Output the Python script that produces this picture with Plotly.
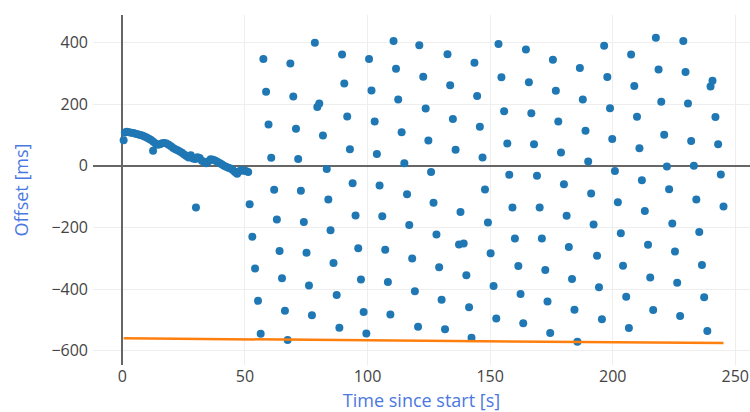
import plotly.graph_objects as go

# Clock offset samples: time since start [s] and offset [ms]
time_s = [
    0.5, 1.0, 1.8, 2.7, 3.6, 4.5, 5.4, 6.3, 7.2, 8.1, 9.0, 9.9, 10.8, 11.7,
    12.5, 12.6, 13.5, 14.4, 15.3, 16.2, 17.1, 18.0, 18.9, 19.8, 20.7, 21.6,
    22.5, 23.4, 24.3, 25.2, 26.1, 27.0, 27.9, 28.8, 29.7, 30.0, 30.6, 31.5,
    32.4, 33.3, 34.2, 35.1, 36.0, 36.9, 37.8, 38.7, 39.6, 40.5, 41.4, 42.3,
    43.2, 44.1, 45.0, 45.9, 46.8, 47.7, 48.6, 49.5, 50.4, 51.3,
    51.9, 53.0, 54.1, 55.3, 56.4, 57.5, 58.6, 59.6, 60.7, 61.9, 63.0, 64.1,
    65.1, 66.3, 67.4, 68.5, 69.7, 70.8, 71.7, 72.8, 74.0, 75.1, 76.1, 77.3,
    78.5, 79.5, 80.3, 81.8, 83.35, 84.0, 84.9, 86.1, 87.4, 88.5,
    89.6, 90.5, 91.7, 92.8, 93.9, 95.1, 96.2, 97.3, 98.4, 99.5,
    100.6, 101.6, 102.9, 103.8, 104.9, 106.0, 107.2, 108.3, 109.3,
    110.6, 111.6, 112.5, 113.9, 115.0, 116.1, 117.0, 118.2, 119.3, 120.6,
    121.1, 122.7, 123.7, 124.8, 125.9, 126.9, 128.1, 129.2, 130.2, 131.6,
    132.6, 133.7, 134.8, 135.9, 137.3, 137.9, 139.2, 140.3, 141.4, 142.4,
    143.6, 144.7, 145.8, 146.9, 147.9, 149.1, 150.2, 151.4, 152.5,
    153.4, 154.6, 155.7, 157.0, 157.8, 159.1, 160.1, 161.5, 162.4, 163.5,
    164.6, 165.8, 166.8, 167.9, 169.1, 170.2, 171.1, 172.5, 173.4, 174.5,
    175.6, 176.8, 177.8, 178.9, 180.1, 181.2, 182.1, 183.4, 184.4, 185.6,
    186.6, 187.8, 188.9, 190.0, 191.2, 192.2, 193.6, 194.4, 195.6,
    196.5, 197.8, 198.9, 199.8, 200.9, 202.1, 203.3, 204.2, 205.5, 206.6,
    207.5, 208.8, 209.9, 210.9, 211.9, 213.1, 214.4, 215.3, 216.5,
    217.6, 218.7, 219.8, 221.0, 222.1, 223.0, 224.3, 225.4, 226.3, 227.5,
    228.8, 229.7, 230.7, 232.0, 233.1, 234.1, 235.3, 236.4, 237.3, 238.6,
    239.9, 240.7, 241.9, 243.0, 244.1, 245.2,
]
offset_ms = [
    83, 108, 110, 109, 107, 106, 104, 102, 100, 98, 95, 92, 88, 84,
    49, 78, 72, 68, 70, 73, 74, 72, 68, 63, 58, 54,
    50, 46, 42, 37, 32, 27, 34, 24, 22, -135, 28, 25,
    16, 12, 8, 15, 21, 20, 17, 13, 9, 5, 0, -3,
    -6, -9, -14, -20, -26, -18, -14, -16, -17, -20,
    -125, -230, -333, -438, -545, 346, 240, 134, 26, -78, -174, -276,
    -365, -470, -565, 332, 225, 120, 22, -81, -182, -282, -388, -485,
    399, 191, 202, 98, -10, -109, -209, -315, -419, -525,
    361, 267, 160, 54, -57, -161, -267, -369, -474, -544,
    346, 244, 144, 38, -64, -164, -272, -377, -482,
    405, 315, 215, 109, 8, -92, -192, -301, -407, -522,
    391, 289, 186, 82, -20, -120, -223, -329, -434, -530,
    362, 261, 152, 52, -255, -150, -252, -355, -459, -558,
    334, 226, 127, 27, -77, -184, -284, -390, -495,
    395, 287, 177, 72, -29, -135, -236, -325, -416, -511,
    377, 271, 170, 70, -32, -135, -236, -338, -440, -542,
    344, 243, 144, 43, -60, -162, -263, -367, -467, -571,
    317, 215, 114, 14, -90, -190, -292, -394, -498,
    389, 288, 187, 87, -17, -118, -219, -324, -425, -526,
    361, 259, 159, 57, -47, -147, -256, -362, -468,
    415, 312, 208, 101, -2, -76, -187, -278, -379, -487,
    405, 304, 202, 80, 0, -109, -215, -322, -426, -536,
    257, 276, 158, 70, -28, -132,
]

# Linear trend line end points
trend_time_s = [0.5, 245.2]
trend_offset_ms = [-559.5, -575.0]

x_ticks = [0, 50, 100, 150, 200, 250]
y_ticks = [-600, -400, -200, 0, 200, 400]

fig = go.Figure()
fig.add_trace(go.Scatter(
    x=time_s, y=offset_ms, mode="markers",
    marker=dict(color="#1f77b4", size=8),
    name="offset",
))
fig.add_trace(go.Scatter(
    x=trend_time_s, y=trend_offset_ms, mode="lines",
    line=dict(color="#ff7f0e", width=2.5),
    name="trend",
))

axis_common = dict(
    showgrid=True, gridcolor="#eeeeee", gridwidth=1,
    zeroline=True, zerolinecolor="#666666", zerolinewidth=1.5,
    showline=False, ticks="",
    tickfont=dict(family="Open Sans, sans-serif", size=16, color="#444444"),
)

fig.update_layout(
    width=750, height=412,
    margin=dict(l=93, r=0, t=15, b=47),
    paper_bgcolor="white", plot_bgcolor="white",
    showlegend=False,
    font=dict(family="Open Sans, sans-serif"),
    xaxis=dict(
        range=[-12, 256], tickvals=x_ticks,
        title=dict(text="Time since start [s]",
                   font=dict(size=18, color="#4a78e0"), standoff=8),
        **axis_common,
    ),
    yaxis=dict(
        range=[-646, 489], tickvals=y_ticks, ticklabelstandoff=4,
        title=dict(text="Offset [ms]",
                   font=dict(size=18, color="#4a78e0"), standoff=18),
        **axis_common,
    ),
)

fig.write_html("out.html")
